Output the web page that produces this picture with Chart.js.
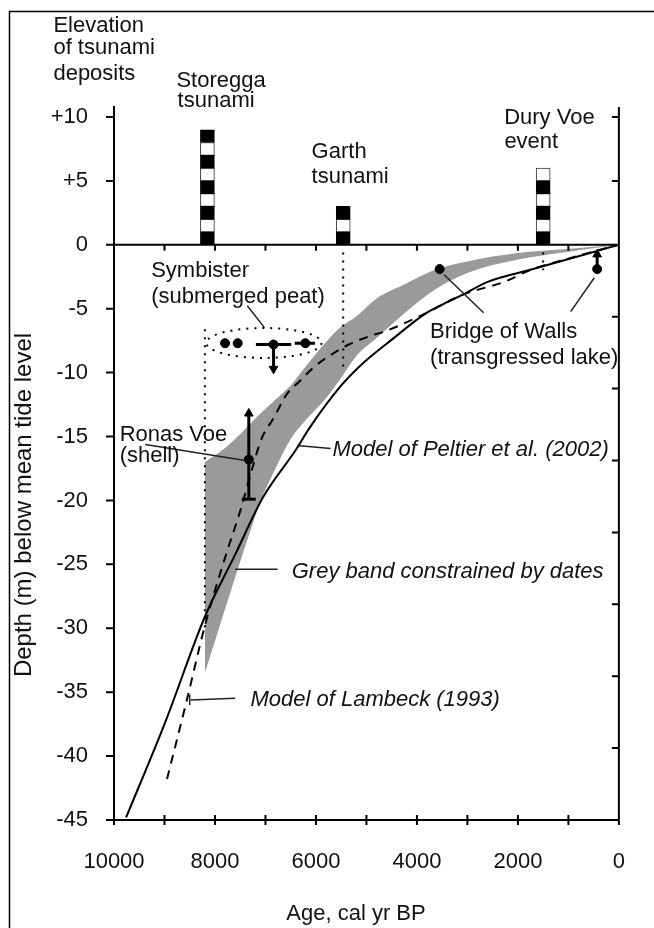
<!DOCTYPE html>
<html>
<head>
<meta charset="utf-8">
<script src="https://cdn.jsdelivr.net/npm/chart.js@4/dist/chart.umd.min.js"></script>
<style>
  html, body { margin: 0; padding: 0; background: #fff; }
  #wrap { width: 654px; height: 928px; }
</style>
</head>
<body>
<div id="wrap"><canvas id="sea-level" width="654" height="928"></canvas></div>
<script>
// axis ticks
const xLabelValues = [10000, 8000, 6000, 4000, 2000, 0];
const xTickMarks = [10000, 9000, 8000, 7000, 6000, 5000, 4000, 3000, 2000, 1000, 0];
const yLabelValues = [10, 5, 0, -5, -10, -15, -20, -25, -30, -35, -40, -45];
const rightTickMarks = [10, 5, 0, -5.625, -11.25, -16.875, -22.5, -28.125, -33.75, -39.375, -45];

// Model of Peltier et al. (2002), solid line
const peltierAge = [9760, 8990, 8200, 7620, 7040, 6390, 6140, 5520, 5080, 4460, 3840, 3460, 3090, 2600, 1700, 800, 0];
const peltierDepth = [-44.8, -37.4, -29.1, -24.4, -19.7, -16.0, -14.4, -11.1, -9.3, -7.3, -5.4, -4.6, -3.9, -2.9, -1.9, -0.9, 0];

// Model of Lambeck (1993), dashed line
const lambeckAge = [8950, 8550, 8200, 7770, 7490, 7270, 7080, 6830, 6580, 6330, 6050, 5700, 5350, 4900, 4650, 3900, 3090, 2270, 1770, 840, 0];
const lambeckDepth = [-41.8, -35.5, -29.8, -24.1, -20.7, -17.6, -15.2, -13.5, -11.7, -10.7, -9.6, -8.6, -7.8, -7.1, -6.8, -5.5, -3.9, -2.9, -2.0, -0.9, 0];

// grey band constrained by dates
const bandAge = [8200, 7800, 7600, 7300, 7100, 6800, 6500, 6200, 5800, 5500, 5200, 4800, 4200, 3600, 3000, 2000, 1100, 0];
const bandTop = [-17.0, -15.9, -15.2, -14.0, -13.2, -12.1, -11.0, -9.5, -7.6, -6.4, -5.6, -4.2, -3.0, -1.9, -1.3, -0.65, -0.35, 0];
const bandBottom = [-33.5, -28.5, -26.0, -22.4, -20.1, -17.5, -15.2, -13.7, -12.0, -10.4, -8.7, -7.3, -5.2, -3.4, -2.2, -1.15, -0.6, 0];

// tsunami deposits: [age, bottom, top] of each 1 m band
const blackBands = [
  [8150, 0, 1], [8150, 2, 3], [8150, 4, 5], [8150, 6, 7], [8150, 8, 9],
  [5460, 0, 1], [5460, 2, 3],
  [1500, 0, 1], [1500, 2, 3], [1500, 4, 5]
];
const whiteBands = [
  [8150, 1, 2], [8150, 3, 4], [8150, 5, 6], [8150, 7, 8],
  [5460, 1, 2],
  [1500, 1, 2], [1500, 3, 4], [1500, 5, 6]
];

// dotted event lines: [age, from depth, to depth]
const eventLines = [[8200, -6.6, -30], [5460, -0.6, -10], [1500, -0.6, -2]];

// dated samples
const symbisterAge = [7800, 7550, 6840, 6210];
const symbisterDepth = [-7.7, -7.7, -7.8, -7.7];
const symbisterErrors = [[7190, -7.8, 6490, -7.8], [6420, -7.7, 6020, -7.7], [6840, -7.8, 6840, -9.6]];
const symbisterArrow = [[6840, -9.7]];
const ronasAge = [7330];
const ronasDepth = [-16.8];
const ronasError = [[7330, -13.3, 7330, -19.9]];
const ronasArrow = [[7330, -13.2]];
const ronasCap = [[7330, -19.9]];
const bridgeAge = [3550, 430];
const bridgeDepth = [-1.9, -1.9];
const bridgeError = [[430, -1.9, 430, -0.9]];
const bridgeArrow = [[430, -0.75]];

// leader lines from labels: [age1, depth1, age2, depth2]
const leaders = [
  [7360, -4.77, 7020, -6.48],
  [3460, -2.34, 2680, -5.31],
  [955, -5.23, 487, -2.58],
  [9380, -15.63, 7400, -16.88],
  [6370, -15.7, 5710, -15.94],
  [7600, -25.39, 6760, -25.39],
  [8480, -35.62, 7600, -35.47],
  [8500, -35.2, 8500, -36.0]
];

const symbisterEllipse = { age: 7030, depth: -7.68, ageRadius: 1140, depthRadius: 1.17 };

// annotation texts: [text, age, depth, italic]
const notes = [
  ['Elevation', 11200, 16.66],
  ['of tsunami', 11200, 14.92],
  ['deposits', 11200, 12.89],
  ['Storegga', 8764, 12.32],
  ['tsunami', 8740, 10.8],
  ['Garth', 6086, 6.77],
  ['tsunami', 6086, 4.87],
  ['Dury Voe', 2272, 9.45],
  ['event', 2268, 7.6],
  ['Symbister', 9264, -2.52],
  ['(submerged peat)', 9264, -4.53],
  ['Bridge of Walls', 3740, -7.29],
  ['(transgressed lake)', 3740, -9.3],
  ['Ronas Voe', 9888, -15.37],
  ['(shell)', 9888, -17.03],
  ['Model of Peltier et al. (2002)', 5674, -16.54, true],
  ['Grey band constrained by dates', 6480, -26.04, true],
  ['Model of Lambeck (1993)', 7298, -36.07, true]
];

const FONT = '"Liberation Sans", Arial, sans-serif';

const toPoints = (xs, ys) => xs.map((x, i) => ({ x, y: ys[i] }));
const toSegments = list => {
  const out = [];
  list.forEach(([x1, y1, x2, y2]) => {
    out.push({ x: x1, y: y1 }, { x: x2, y: y2 }, { x: x2, y: null });
  });
  return out;
};
const toBars = list => list.map(([x, lo, hi]) => ({ x, y: [lo, hi] }));
const toVertical = list => toSegments(list.map(([x, a, b]) => [x, a, x, b]));
const toPairs = list => list.map(([x, y]) => ({ x, y }));

const decor = {
  id: 'decor',
  beforeDraw(chart) {
    const ctx = chart.ctx;
    ctx.save();
    ctx.fillStyle = '#fff';
    ctx.fillRect(0, 0, chart.width, chart.height);
    ctx.strokeStyle = '#000';
    ctx.lineWidth = 1.5;
    ctx.beginPath();
    ctx.moveTo(9.5, chart.height);
    ctx.lineTo(9.5, 11.5);
    ctx.lineTo(chart.width, 11.5);
    ctx.stroke();
    ctx.restore();
  },
  afterDraw(chart) {
    const { ctx, chartArea: a } = chart;
    const x = chart.scales.x, y = chart.scales.y;
    ctx.save();
    ctx.strokeStyle = '#000';
    ctx.lineWidth = 2;

    // zero line with ticks hanging down
    const y0 = y.getPixelForValue(0);
    ctx.beginPath();
    ctx.moveTo(a.left, y0);
    ctx.lineTo(a.right, y0);
    xTickMarks.forEach(v => {
      const px = x.getPixelForValue(v);
      ctx.moveTo(px, y0);
      ctx.lineTo(px, y0 + 6);
    });
    // right axis with inward ticks
    ctx.moveTo(a.right, a.top);
    ctx.lineTo(a.right, a.bottom);
    rightTickMarks.forEach(v => {
      const py = y.getPixelForValue(v);
      ctx.moveTo(a.right, py);
      ctx.lineTo(a.right - 7, py);
    });
    // left axis ticks
    yLabelValues.forEach(v => {
      const py = y.getPixelForValue(v);
      ctx.moveTo(a.left, py);
      ctx.lineTo(a.left - 8, py);
    });
    // bottom axis ticks, crossing
    xTickMarks.forEach(v => {
      const px = x.getPixelForValue(v);
      ctx.moveTo(px, a.bottom - 5);
      ctx.lineTo(px, a.bottom + 5);
    });
    ctx.stroke();

    // dotted ellipse round the Symbister samples
    const e = symbisterEllipse;
    const cx = x.getPixelForValue(e.age), cy = y.getPixelForValue(e.depth);
    const rx = Math.abs(x.getPixelForValue(e.age + e.ageRadius) - cx);
    const ry = Math.abs(y.getPixelForValue(e.depth + e.depthRadius) - cy);
    ctx.lineWidth = 2;
    ctx.setLineDash([2, 6]);
    ctx.beginPath();
    ctx.ellipse(cx, cy, rx, ry, 0, 0, Math.PI * 2);
    ctx.stroke();
    ctx.setLineDash([]);

    // labels
    ctx.fillStyle = '#111';
    ctx.textBaseline = 'alphabetic';
    ctx.textAlign = 'left';
    notes.forEach(([text, age, depth, italic]) => {
      ctx.font = (italic ? 'italic ' : '') + '22px ' + FONT;
      ctx.fillText(text, x.getPixelForValue(age), y.getPixelForValue(depth));
    });

    // axis titles
    ctx.font = '22px ' + FONT;
    ctx.textAlign = 'center';
    ctx.fillText('Age, cal yr BP', 356, 920);
    ctx.translate(31, 505);
    ctx.rotate(-Math.PI / 2);
    ctx.font = '24px ' + FONT;
    ctx.fillText('Depth (m) below mean tide level', 0, 0);
    ctx.restore();
  }
};

const lineBase = { type: 'line', pointRadius: 0, fill: false, tension: 0 };
const smooth = { cubicInterpolationMode: 'monotone' };

new Chart(document.getElementById('sea-level'), {
  type: 'line',
  data: {
    datasets: [
      { ...lineBase, data: toSegments(leaders), borderColor: '#222', borderWidth: 1.5, order: 1 },
      { ...lineBase, data: toSegments(symbisterErrors.concat(ronasError, bridgeError)), borderColor: '#000', borderWidth: 3, order: 1 },
      { type: 'line', showLine: false, data: toPairs(symbisterArrow),
        pointStyle: 'triangle', rotation: 180, pointRadius: 5, backgroundColor: '#000', borderColor: '#000', order: 1 },
      { type: 'line', showLine: false, data: toPairs(ronasArrow.concat(bridgeArrow)),
        pointStyle: 'triangle', rotation: 0, pointRadius: 5, backgroundColor: '#000', borderColor: '#000', order: 1 },
      { type: 'line', showLine: false, data: toPairs(ronasCap),
        pointStyle: 'line', pointRadius: 7, borderColor: '#000', pointBorderWidth: 3, order: 1 },
      { type: 'line', showLine: false, data: toPoints(symbisterAge, symbisterDepth).concat(toPoints(ronasAge, ronasDepth), toPoints(bridgeAge, bridgeDepth)),
        pointStyle: 'circle', pointRadius: 4.5, backgroundColor: '#000', borderColor: '#000', order: 1 },
      { ...lineBase, ...smooth, data: toPoints(peltierAge, peltierDepth), borderColor: '#000', borderWidth: 2, order: 2 },
      { ...lineBase, ...smooth, data: toPoints(lambeckAge, lambeckDepth), borderColor: '#000', borderWidth: 2, borderDash: [9, 7], order: 3 },
      { ...lineBase, data: toVertical(eventLines), borderColor: '#000', borderWidth: 2, borderDash: [2, 6], order: 4 },
      { type: 'bar', data: toBars(blackBands), backgroundColor: '#000', borderColor: '#000', borderWidth: 1,
        borderSkipped: false, barThickness: 14, grouped: false, order: 5 },
      { type: 'bar', data: toBars(whiteBands), backgroundColor: '#fff', borderColor: '#333', borderWidth: 1,
        borderSkipped: false, barThickness: 14, grouped: false, order: 5 },
      { ...lineBase, ...smooth, data: toPoints(bandAge, bandTop), borderWidth: 0, borderColor: 'rgba(0,0,0,0)',
        backgroundColor: '#9a9a9a', fill: '+1', order: 9 },
      { ...lineBase, ...smooth, data: toPoints(bandAge, bandBottom), borderWidth: 0, borderColor: 'rgba(0,0,0,0)', order: 10 }
    ]
  },
  options: {
    responsive: false,
    animation: false,
    events: [],
    layout: { padding: { top: 107, right: 6, left: 0, bottom: 0 } },
    plugins: { legend: { display: false }, tooltip: { enabled: false } },
    scales: {
      x: {
        type: 'linear',
        reverse: true,
        min: 0,
        max: 10000,
        offset: false,
        afterFit: s => { s.height = 108; },
        afterBuildTicks: s => { s.ticks = xLabelValues.map(v => ({ value: v })); },
        grid: { display: false, drawTicks: false, offset: false },
        border: { display: true, color: '#000', width: 2 },
        ticks: {
          color: '#111', padding: 29, maxRotation: 0, autoSkip: false, font: { family: FONT, size: 22 },
          callback: v => String(v)
        }
      },
      y: {
        type: 'linear',
        min: -45,
        max: 10.78,
        afterFit: s => { s.width = 114; },
        afterBuildTicks: s => { s.ticks = yLabelValues.map(v => ({ value: v })); },
        grid: { display: false, drawTicks: false },
        border: { display: true, color: '#000', width: 2 },
        ticks: {
          color: '#111', padding: 26, autoSkip: false, font: { family: FONT, size: 22 },
          callback: v => (v > 0 ? '+' + v : String(v))
        }
      }
    }
  },
  plugins: [decor]
});
</script>
</body>
</html>
